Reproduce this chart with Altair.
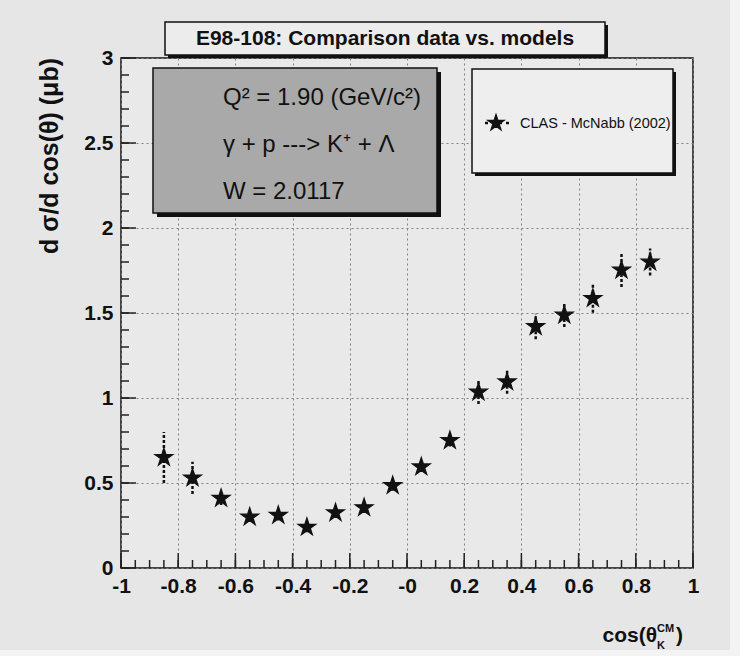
import altair as alt
import pandas as pd

# ---------------- data ----------------
cos_theta = [-0.85, -0.75, -0.65, -0.55, -0.45, -0.35, -0.25, -0.15, -0.05,
             0.05, 0.15, 0.25, 0.35, 0.45, 0.55, 0.65, 0.75, 0.85]
dsigma = [0.65, 0.53, 0.41, 0.30, 0.31, 0.24, 0.325, 0.355, 0.485,
          0.595, 0.75, 1.035, 1.095, 1.42, 1.488, 1.586, 1.753, 1.80]
dsigma_err = [0.15, 0.095, 0.04, 0.03, 0.03, 0.03, 0.03, 0.03, 0.03,
              0.03, 0.035, 0.07, 0.07, 0.075, 0.07, 0.085, 0.10, 0.08]

x_tick_values = [-1, -0.8, -0.6, -0.4, -0.2, 0, 0.2, 0.4, 0.6, 0.8, 1]
x_tick_labels = ["-1", "-0.8", "-0.6", "-0.4", "-0.2", "-0", "0.2", "0.4", "0.6", "0.8", "1"]
y_tick_values = [0, 0.5, 1, 1.5, 2, 2.5, 3]
y_tick_labels = ["0", "0.5", "1", "1.5", "2", "2.5", "3"]
x_minor_ticks = [round(-1 + 0.05 * i, 2) for i in range(41)]
y_minor_ticks = [round(0.1 * i, 2) for i in range(31)]

title_text = "E98-108: Comparison data vs. models"
info_lines = ["Q\u00b2 = 1.90 (GeV/c\u00b2)", "\u03b3 + p ---> K\u207a + \u039b", "W = 2.0117"]
legend_label = "CLAS - McNabb (2002)"
y_title = "d \u03c3/d cos(\u03b8) (\u03bcb)"

# ---------------- layout ----------------
W, H = 572, 510
FONT = "Liberation Sans, Arial, sans-serif"
STAR = ("M0,-1L0.2245,-0.309L0.951,-0.309L0.363,0.118L0.588,0.809L0,0.382"
        "L-0.588,0.809L-0.363,0.118L-0.951,-0.309L-0.2245,-0.309Z")

df = pd.DataFrame({"x": cos_theta, "y": dsigma, "e": dsigma_err})
df["lo"] = df["y"] - df["e"]
df["hi"] = df["y"] + df["e"]

xlab_expr = "[" + ",".join("'%s'" % s for s in x_tick_labels) + "][round((datum.value+1)*5)]"
ylab_expr = "[" + ",".join("'%s'" % s for s in y_tick_labels) + "][round(datum.value*2)]"

xscale = alt.Scale(domain=[-1, 1], nice=False, zero=False)
yscale = alt.Scale(domain=[0, 3], nice=False, zero=False)
xaxis = alt.Axis(values=x_tick_values, labelExpr=xlab_expr, title=None, grid=True,
                 labelFlush=False, labelOverlap=False, labelPadding=7)
yaxis = alt.Axis(values=y_tick_values, labelExpr=ylab_expr, title=None, grid=True,
                 labelFlush=False, labelOverlap=False, labelPadding=8)


def X(field):
    return alt.X(field, type="quantitative", scale=xscale, axis=xaxis)


def Y(field):
    return alt.Y(field, type="quantitative", scale=yscale, axis=yaxis)


one = pd.DataFrame({"t": [""]})


def box(x1, x2, y1, y2, fill, stroke=None, sw=0):
    kw = dict(fill=fill)
    if stroke:
        kw.update(stroke=stroke, strokeWidth=sw)
    return alt.Chart(one).mark_rect(**kw).encode(
        x=alt.value(x1), x2=alt.value(x2), y=alt.value(y1), y2=alt.value(y2))


def text(t, x, y, size, bold=False, align="left", baseline="alphabetic", angle=0):
    kw = dict(font=FONT, fontSize=size, fontWeight="bold" if bold else "normal",
              align=align, baseline=baseline, color="#111")
    if angle:
        kw["angle"] = angle
    return alt.Chart(pd.DataFrame({"t": [t]})).mark_text(**kw).encode(
        x=alt.value(x), y=alt.value(y), text="t:N")


# lighter scan margins (right and bottom edge of the page)
margins = box(609, 620, -58, 600, "#f3f3f3") + box(-121, 620, 592, 600, "#f3f3f3")

# error bars (dashed) and stars
errs = alt.Chart(df).mark_rule(color="#111", strokeWidth=2.5, strokeDash=[3, 2]).encode(
    x=X("x"), y=Y("lo"), y2="hi")
stars = alt.Chart(df).mark_point(shape=STAR, size=340, filled=True, color="#111",
                                 stroke="#111", strokeWidth=1.3, opacity=1).encode(
    x=X("x"), y=Y("y"))

# axis ticks (inward)
xmaj = alt.Chart(pd.DataFrame({"t": x_tick_values})).mark_rule(color="#222", strokeWidth=1.5).encode(
    x=X("t"), y=alt.value(H), y2=alt.value(H - 15))
xmin = alt.Chart(pd.DataFrame({"t": x_minor_ticks})).mark_rule(color="#222", strokeWidth=1.5).encode(
    x=X("t"), y=alt.value(H), y2=alt.value(H - 8))
ymaj = alt.Chart(pd.DataFrame({"t": y_tick_values})).mark_rule(color="#222", strokeWidth=1.5).encode(
    y=Y("t"), x=alt.value(0), x2=alt.value(15))
ymin = alt.Chart(pd.DataFrame({"t": y_minor_ticks})).mark_rule(color="#222", strokeWidth=1.5).encode(
    y=Y("t"), x=alt.value(0), x2=alt.value(8))

# title box
tbox = box(47, 487, -33, 0, "#111") + box(44, 484, -36, -3, "#ececec", "#111", 1.5)
ttxt = text(title_text, 264, -19, 21, bold=True, align="center", baseline="middle")

# info box
ibox = box(36, 320, 14, 159, "#111") + box(32, 316, 10, 155, "#a9a9a9", "#111", 1.5)
itxt = (text(info_lines[0], 102, 47, 24) + text(info_lines[1], 102, 94, 24)
        + text(info_lines[2], 102, 141, 24))

# legend box
lbox = box(354, 555, 14, 118, "#111") + box(351, 552, 11, 115, "#eeeeee", "#111", 1.5)
lline = alt.Chart(one).mark_rule(color="#111", strokeWidth=2.5, strokeDash=[3, 4]).encode(
    x=alt.value(364), x2=alt.value(388), y=alt.value(65))
lstar = alt.Chart(one).mark_point(shape=STAR, size=300, filled=True, color="#111",
                                  stroke="#111", strokeWidth=1.2, opacity=1).encode(
    x=alt.value(375), y=alt.value(65))
ltxt = text(legend_label, 399, 70, 14.5)

# axis titles
ytit = text(y_title, -71, 0, 25, bold=True, align="right", baseline="middle", angle=270)
xtit = (text("cos(\u03b8", 536, 584, 21, bold=True, align="right")
        + text("CM", 536, 574, 11, bold=True)
        + text("K", 536, 591, 11, bold=True)
        + text(")", 555, 584, 21, bold=True))

chart = alt.layer(
    margins, errs, stars, xmaj, xmin, ymaj, ymin,
    tbox, ttxt, ibox, itxt, lbox, lline, lstar, ltxt, ytit, xtit
).properties(
    width=W, height=H,
    autosize=alt.AutoSizeParams(type="none"),
    padding={"left": 121, "top": 58, "right": 47, "bottom": 88},
    background="#e6e6e6",
).configure_view(
    stroke="#111", strokeWidth=1.5, fill="#e9e9e9"
).configure_axis(
    domain=False, ticks=False,
    gridColor="#808080", gridDash=[2, 3], gridWidth=1, gridOpacity=1,
    labelFont=FONT, labelFontSize=21, labelFontWeight="bold", labelColor="#111",
)

chart.save("out.html", embed_options={"renderer": "svg", "actions": False})
